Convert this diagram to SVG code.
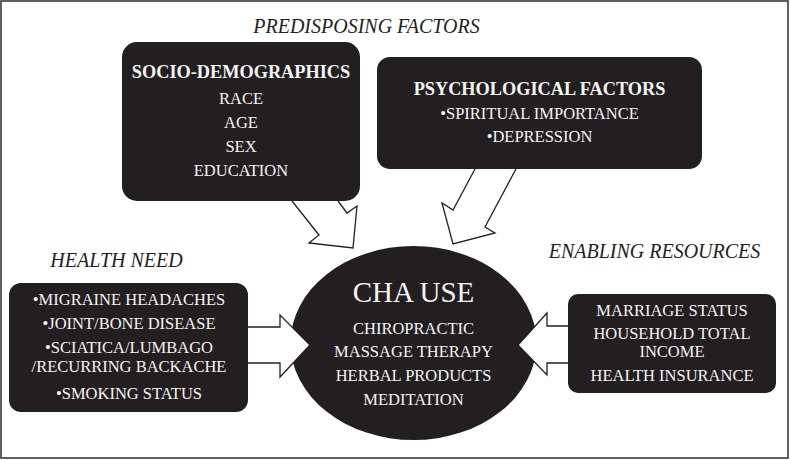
<svg xmlns="http://www.w3.org/2000/svg" width="790" height="460" viewBox="0 0 790 460">
<style>
.box{fill:#231f20}
.arr{fill:#fff;stroke:#231f20;stroke-width:1.3;stroke-linejoin:miter}
text{font-family:"Liberation Serif","DejaVu Serif",serif}
.t{fill:#f4f4f4;text-anchor:middle;font-size:16.5px}
.b{font-weight:bold;font-size:18.3px}
.h{fill:#231f20;font-style:italic;font-size:20px;text-anchor:middle}
</style>
<rect x="1" y="1" width="787" height="457" fill="#fff" stroke="#3a3a3a" stroke-width="1.6"/>
<g id="labels">
<text class="h" x="366.5" y="33">PREDISPOSING FACTORS</text>
<text class="h" x="116.5" y="267">HEALTH NEED</text>
<text class="h" x="654.5" y="258">ENABLING RESOURCES</text>
</g>
<g id="socio">
<rect class="box" x="122" y="42" width="238" height="159" rx="15"/>
<text class="t b" x="241" y="78">SOCIO-DEMOGRAPHICS</text>
<text class="t" x="241" y="104">RACE</text>
<text class="t" x="241" y="128">AGE</text>
<text class="t" x="241" y="152">SEX</text>
<text class="t" x="241" y="176">EDUCATION</text>
</g>
<g id="psych">
<rect class="box" x="377" y="57" width="325" height="112" rx="13"/>
<text class="t b" x="539.5" y="95">PSYCHOLOGICAL FACTORS</text>
<text class="t" x="539.5" y="119">•SPIRITUAL IMPORTANCE</text>
<text class="t" x="539.5" y="142">•DEPRESSION</text>
</g>
<g id="health">
<rect class="box" x="9" y="283" width="239" height="129" rx="12"/>
<text class="t" x="129" y="305">•MIGRAINE HEADACHES</text>
<text class="t" x="129" y="329">•JOINT/BONE DISEASE</text>
<text class="t" x="129" y="353">•SCIATICA/LUMBAGO</text>
<text class="t" x="129" y="372">/RECURRING BACKACHE</text>
<text class="t" x="129" y="399">•SMOKING STATUS</text>
</g>
<g id="enabling">
<rect class="box" x="568" y="294" width="208" height="99" rx="10"/>
<text class="t" x="672" y="316">MARRIAGE STATUS</text>
<text class="t" x="672" y="339">HOUSEHOLD TOTAL</text>
<text class="t" x="672" y="357">INCOME</text>
<text class="t" x="672" y="381">HEALTH INSURANCE</text>
</g>
<g id="cha">
<ellipse class="box" cx="413.5" cy="343" rx="123" ry="97"/>
<text class="t" x="413.5" y="302" style="font-size:29px">CHA USE</text>
<text class="t" x="413.5" y="334">CHIROPRACTIC</text>
<text class="t" x="413.5" y="357">MASSAGE THERAPY</text>
<text class="t" x="413.5" y="381">HERBAL PRODUCTS</text>
<text class="t" x="413.5" y="405">MEDITATION</text>
</g>
<g id="connectors">
<polyline class="arr" points="292,201 319,235 309,243 353,248 357,206 347,213 338,201"/>
<polyline class="arr" points="475,169 453,210 442,203 453,244 495,233 485,227 516,169"/>
<polyline class="arr" points="248,327 280,327 280,315 310,345 280,377 280,363 248,363"/>
<polyline class="arr" points="568,326 547,326 547,313 518,345 547,375 547,363 568,363"/>
</g>
</svg>
